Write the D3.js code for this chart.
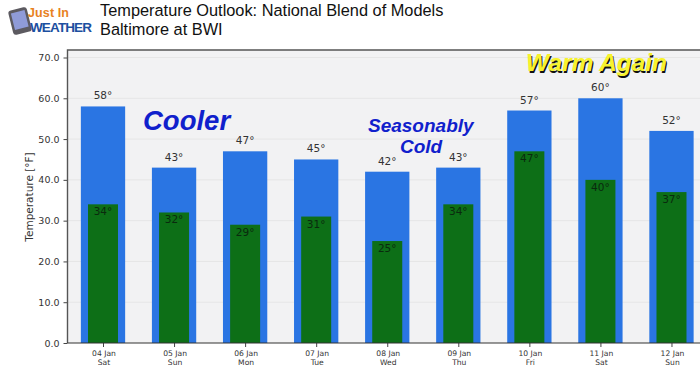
<!DOCTYPE html>
<html><head><meta charset="utf-8">
<script src="https://cdnjs.cloudflare.com/ajax/libs/d3/7.8.5/d3.min.js"></script>
<style>html,body{margin:0;background:#fff}svg{display:block}text{font-family:"DejaVu Sans",sans-serif}</style>
</head><body><svg id="c" width="700" height="371"></svg>
<script>
const dates=["04 Jan","05 Jan","06 Jan","07 Jan","08 Jan","09 Jan","10 Jan","11 Jan","12 Jan"];
const days=["Sat","Sun","Mon","Tue","Wed","Thu","Fri","Sat","Sun"];
const highs=[58,43,47,45,42,43,57,60,52];
const lows=[34,32,29,31,25,34,47,40,37];
const yTicks=[0,10,20,30,40,50,60,70];
const svg=d3.select("#c");
const L=67.5,R=700,T=50,B=343;
const step=71.06,first=103;
const x=d3.scaleLinear().domain([0,8]).range([first,first+8*step]);
const y=d3.scaleLinear().domain([0,70]).range([B,57.5]);
const bw=44.3,gw=30;
svg.append("rect").attr("x",L).attr("y",T).attr("width",R-L).attr("height",B-T).attr("fill","#f2f2f3");
svg.append("g").selectAll("line").data(yTicks.slice(1)).join("line")
 .attr("x1",L).attr("x2",R).attr("y1",d=>y(d)).attr("y2",d=>y(d)).attr("stroke","#e6e6e6").attr("stroke-width",1);
svg.append("g").selectAll("rect").data(highs).join("rect")
 .attr("x",(d,i)=>x(i)-bw/2).attr("width",bw).attr("y",d=>y(d)).attr("height",d=>B-y(d)).attr("fill","#2a75e3");
svg.append("g").selectAll("rect").data(lows).join("rect")
 .attr("x",(d,i)=>x(i)-gw/2).attr("width",gw).attr("y",d=>y(d)).attr("height",d=>B-y(d)).attr("fill","#0d6f17");
svg.append("g").selectAll("text").data(highs).join("text")
 .attr("x",(d,i)=>x(i)).attr("y",d=>y(d)-7).attr("text-anchor","middle").attr("font-size",10.5).attr("fill","#333").text(d=>d+"°");
svg.append("g").selectAll("text").data(lows).join("text")
 .attr("x",(d,i)=>x(i)).attr("y",d=>y(d)+11).attr("text-anchor","middle").attr("font-size",10.5).attr("fill","#0a2a0e").text(d=>d+"°");
const ay=d3.axisLeft(y).tickValues(yTicks).tickFormat(d3.format(".1f")).tickSize(4).tickPadding(4);
const gy=svg.append("g").attr("transform",`translate(${L},0)`).call(ay);
gy.select(".domain").remove();
gy.selectAll("text").attr("font-size",9.5).attr("fill","#333").style("font-family",'"DejaVu Sans",sans-serif');
gy.selectAll("line").attr("stroke","#444");
const ax=d3.axisBottom(x).tickValues(d3.range(dates.length)).tickFormat("").tickSize(4);
const gx=svg.append("g").attr("transform",`translate(0,${B})`).call(ax);
gx.select(".domain").remove();gx.selectAll("line").attr("stroke","#444");
const lab=svg.append("g").selectAll("text").data(dates).join("text")
 .attr("text-anchor","middle").attr("font-size",7.6).attr("fill","#333");
lab.append("tspan").attr("x",(d,i)=>x(i)+1).attr("y",356).text(d=>d);
lab.append("tspan").attr("x",(d,i)=>x(i)+1).attr("y",365).text((d,i)=>days[i]);
svg.append("path").attr("d",`M${L},${B}V${T}H${R}`).attr("fill","none").attr("stroke","#555").attr("stroke-width",1.4);
svg.append("line").attr("x1",L).attr("x2",R).attr("y1",B).attr("y2",B).attr("stroke","#333").attr("stroke-width",1.2);
svg.append("text").attr("transform","translate(33,197) rotate(-90)").attr("text-anchor","middle").attr("font-size",10.5).attr("fill","#333").text("Temperature [°F]");
const sans='"Liberation Sans",Arial,sans-serif';
[["Temperature Outlook: National Blend of Models",16],["Baltimore at BWI",35]].forEach(([t,yy])=>
 svg.append("text").attr("x",100).attr("y",yy).attr("font-size",16.35).attr("fill","#111").style("font-family",sans).text(t));
const anns=[["Cooler",143,130,27.5],["Seasonably",368,132,19],["Cold",400,153,19]];
anns.forEach(([t,xx,yy,s])=>svg.append("text").attr("x",xx).attr("y",yy).attr("font-size",s).attr("font-weight","bold").attr("font-style","italic").attr("fill","#1020cc").style("font-family",sans).text(t));
svg.append("text").attr("x",526).attr("y",71).attr("font-size",24.4).attr("font-weight","bold").attr("font-style","italic").attr("fill","#111").style("font-family",sans).text("Warm Again").attr("transform","translate(1,1.5)");
svg.append("text").attr("x",526).attr("y",71).attr("font-size",24.4).attr("font-weight","bold").attr("font-style","italic").attr("fill","#f7f32c").style("font-family",sans).text("Warm Again");
// logo
const lg=svg.append("g").attr("transform","rotate(-14 20 21)");
lg.append("rect").attr("x",10.5).attr("y",8.5).attr("width",19).attr("height",25).attr("rx",3).attr("fill","#5c5a60");
lg.append("rect").attr("x",13).attr("y",11.5).attr("width",14).attr("height",17).attr("fill","#8f9bd8");
svg.append("text").attr("x",28).attr("y",16.8).attr("font-size",12.5).attr("font-weight","bold").attr("fill","#e8821e").style("font-family",sans).attr("textLength",41).text("Just In");
svg.append("text").attr("x",30).attr("y",31.5).attr("font-size",13.5).attr("font-weight","bold").attr("fill","#1c4fa0").style("font-family",sans).attr("textLength",62).text("WEATHER");
</script></body></html>
